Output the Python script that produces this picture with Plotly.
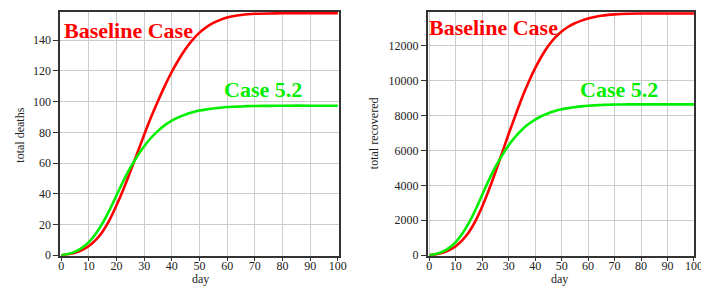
import plotly.graph_objects as go
from plotly.subplots import make_subplots

days = [0, 2.5, 5, 7.5, 10, 12.5, 15, 17.5, 20, 22.5, 25, 27.5, 30, 32.5, 35, 37.5, 40,
        42.5, 45, 47.5, 50, 52.5, 55, 57.5, 60, 62.5, 65, 67.5, 70, 75, 80, 90, 100]

deaths_baseline = [0, 0.6, 1.6, 3.3, 6, 10, 15.5, 23, 32.5, 43, 54.5, 66.5, 78.5, 90, 100.5, 110.5, 119.5,
                   127.5, 134.5, 140.3, 145, 148.6, 151.3, 153.3, 154.8, 155.8, 156.5, 157.0, 157.3, 157.5, 157.6, 157.6, 157.6]
deaths_case52 = [0, 0.8, 2.3, 4.8, 8.5, 14, 21, 29.5, 39, 48.5, 57, 64.5, 71, 76.5, 81, 84.7, 87.6,
                 89.9, 91.7, 93.1, 94.2, 95.0, 95.6, 96.1, 96.5, 96.7, 96.9, 97.1, 97.2, 97.3, 97.4, 97.4, 97.4]

recovered_baseline = [0, 50, 140, 290, 520, 860, 1330, 1980, 2790, 3730, 4760, 5850, 6950, 7980, 9000, 9900, 10700,
                      11400, 11980, 12450, 12800, 13070, 13270, 13420, 13540, 13630, 13700, 13750, 13780, 13815, 13830, 13830, 13830]
recovered_case52 = [0, 71, 204, 425, 753, 1240, 1861, 2614, 3456, 4297, 5050, 5715, 6291, 6778, 7177, 7505, 7762,
                    7965, 8125, 8250, 8346, 8418, 8470, 8515, 8551, 8575, 8595, 8610, 8620, 8628, 8630, 8630, 8630]

x_ticks = [0, 10, 20, 30, 40, 50, 60, 70, 80, 90, 100]
deaths_ticks = [0, 20, 40, 60, 80, 100, 120, 140]
recovered_ticks = [0, 2000, 4000, 6000, 8000, 10000, 12000]

RED = "#ff0000"
GREEN = "#00ee00"
W, H = 709, 286
SERIF = "Liberation Serif"
TXT = "#222222"

fig = make_subplots(rows=1, cols=2)

def line(x, y, color, col):
    fig.add_trace(go.Scatter(x=x, y=y, mode="lines",
                             line=dict(color=color, width=2.6, shape="spline", smoothing=0.8),
                             showlegend=False, hoverinfo="skip"), 1, col)

line(days, deaths_baseline, RED, 1)
line(days, deaths_case52, GREEN, 1)
line(days, recovered_baseline, RED, 2)
line(days, recovered_case52, GREEN, 2)

axis_common = dict(showline=True, linecolor="#333333", linewidth=1.5, mirror=True,
                   showgrid=True, gridcolor="#cccccc", gridwidth=1, zeroline=False,
                   tickfont=dict(family=SERIF, size=12, color=TXT),
                   ticks="outside", ticklen=5, tickcolor="#333333")
fig.update_xaxes(**axis_common)
fig.update_yaxes(**axis_common)

ytop = 1 - 4 / H
ybot = 1 - 254 / H
fig.update_layout(
    width=W, height=H, margin=dict(l=0, r=0, t=0, b=0),
    plot_bgcolor="white", paper_bgcolor="white",
    font=dict(family=SERIF),
    xaxis=dict(domain=[51 / W, 334 / W], range=[-0.36, 100.36], tickvals=x_ticks, ticklen=3, ticklabelstandoff=-5),
    yaxis=dict(domain=[ybot, ytop], range=[-0.4, 158.5], tickvals=deaths_ticks),
    xaxis2=dict(domain=[424.3 / W, 695 / W], range=[-0.6, 100.1], tickvals=x_ticks, ticklen=3, ticklabelstandoff=-5),
    yaxis2=dict(domain=[ybot, ytop], range=[-30, 13920], tickvals=recovered_ticks, tickformat="d"),
)

def text(t, cx, cy, color, size, angle=0, bold=False):
    fig.add_annotation(text=("<b>%s</b>" % t) if bold else t, xref="paper", yref="paper",
                       x=cx / W, y=1 - cy / H, xanchor="center", yanchor="middle",
                       textangle=angle, showarrow=False, borderpad=0,
                       font=dict(family=SERIF, size=size, color=color))

text("day", 193, 277.5, TXT, 12)
text("day", 558, 277.5, TXT, 12)
text("total deaths", 10, 130, TXT, 12, angle=-90)
text("total recovered", 370, 128, TXT, 12, angle=-90)

text("Baseline Case", 120, 23, RED, 22, bold=True)
text("Case 5.2", 256.7, 84, GREEN, 22, bold=True)
text("Baseline Case", 491.3, 20, RED, 22, bold=True)
text("Case 5.2", 618.7, 84, GREEN, 22, bold=True)

fig.write_html("out.html")
